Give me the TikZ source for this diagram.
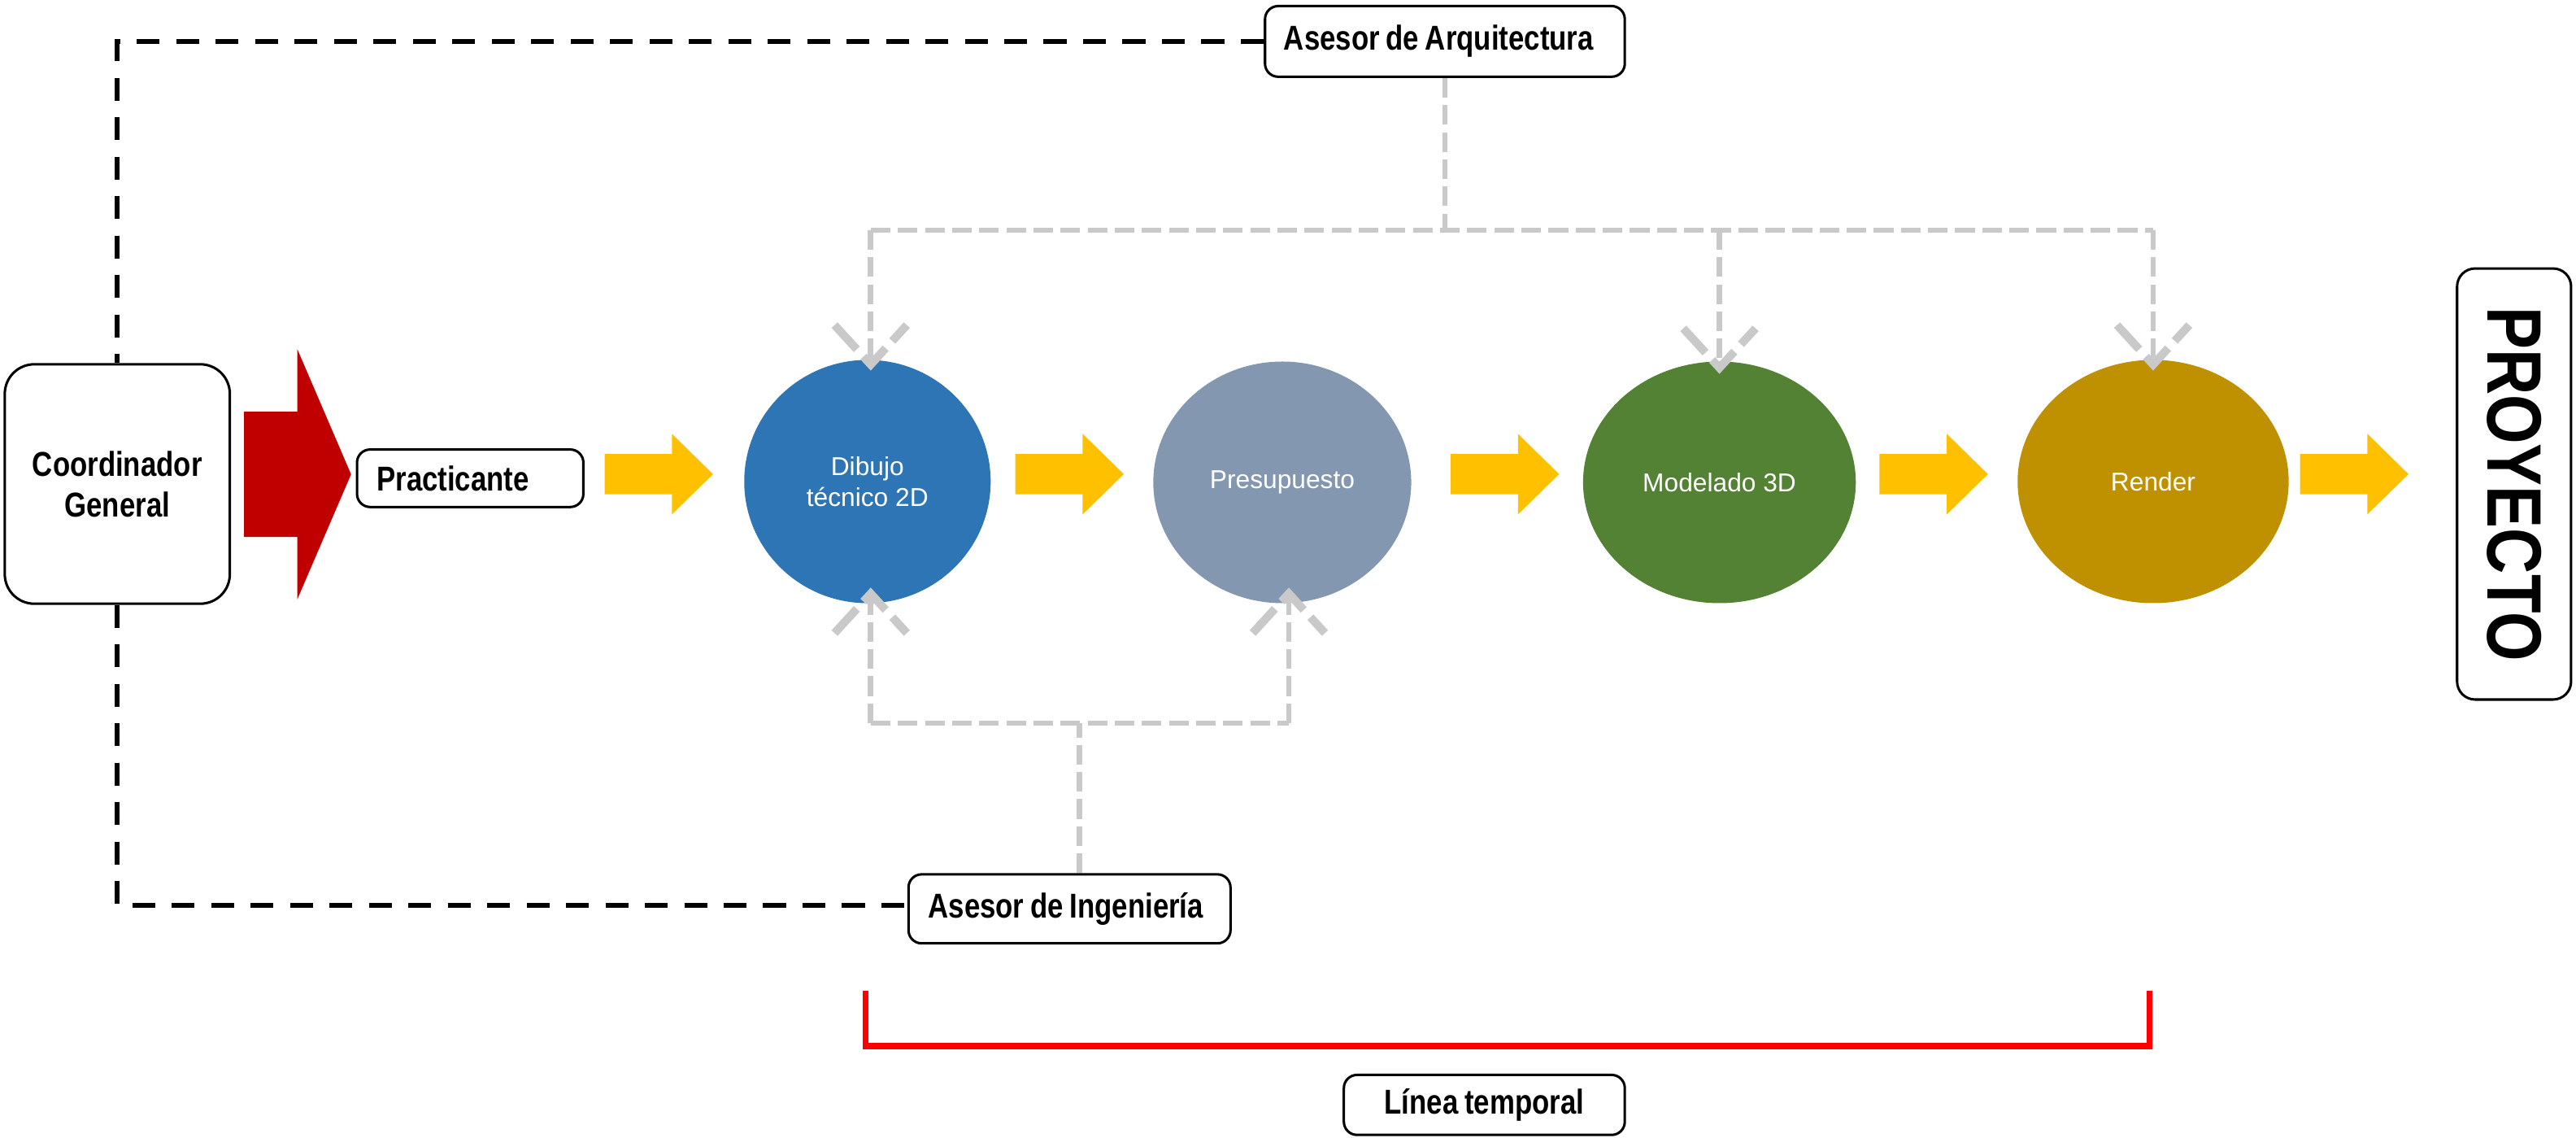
\documentclass[tikz,border=0pt]{standalone}
\usepackage{fontspec}
\setmainfont{Liberation Sans}
\newfontfamily\lblfont[FakeStretch=0.82,WordSpace=0.8]{Liberation Sans}
\usetikzlibrary{calc,shapes.geometric}
\definecolor{yel}{HTML}{FFC000}
\definecolor{redarr}{HTML}{C00000}
\definecolor{cblue}{HTML}{2E75B6}
\definecolor{cgray}{HTML}{8497B0}
\definecolor{cgreen}{HTML}{548235}
\definecolor{cgold}{HTML}{BF9000}
\definecolor{lgray}{RGB}{201,201,201}
\newcommand\myheaddown[1]{\draw[ghead] ($(#1)+(-22,-24)$) -- (#1) -- ($(#1)+(22,-24)$);}
\newcommand\myheadup[1]{\draw[ghead] ($(#1)+(-22,24)$) -- (#1) -- ($(#1)+(22,24)$);}
\begin{document}
\begin{tikzpicture}[x=1pt,y=-1pt,
 lbox/.style={draw=black, line width=1.5pt, rounded corners=8pt, fill=white, inner ysep=0pt,
   font=\lblfont\bfseries\fontsize{21}{24.7}\selectfont},
 ell/.style={ellipse, inner sep=0pt, text=white, font=\fontsize{15.7}{19}\selectfont, align=center},
 blk/.style={draw=black, line width=3.2pt, dash pattern=on 14pt off 10pt},
 gln/.style={draw=lgray, line width=3.3pt, dash pattern=on 12pt off 4.5pt},
 ghead/.style={draw=lgray, line width=5pt, dash pattern=on 20pt off 6pt, line join=miter},
 yarrow/.pic={\fill[yel] (0,-12.2) -- (41,-12.2) -- (41,-24.5) -- (66,0) -- (41,24.5) -- (41,12.2) -- (0,12.2) -- cycle;}
]
\useasboundingbox (0,0) rectangle (1568,692);

% boxes
\node[lbox, rounded corners=18pt, minimum width=137pt, minimum height=145.7pt, inner xsep=0pt, align=center] (coord) at (71.4,294.5) {Coordinador\\General};
\node[lbox, minimum height=35pt, inner xsep=12pt] (prac) at (286.2,291) {\makebox[113.8pt][l]{Practicante}};
\node[lbox, minimum height=43pt, inner xsep=11.5pt] (aa) at (879.5,25.2) {\makebox[196pt][l]{Asesor de Arquitectura}};
\node[lbox, minimum height=42pt, inner xsep=12pt] (ai) at (651,553) {\makebox[172pt][l]{Asesor de Ingenier\'{\i}a}};
\node[lbox, minimum height=36.5pt, minimum width=171pt, inner xsep=0pt] (lt) at (903.5,672.3) {L\'{\i}nea temporal};
\node[lbox, rounded corners=11pt, rotate=-90, minimum width=262.3pt, minimum height=69.4pt, inner xsep=0pt,
      font=\lblfont\bfseries\fontsize{47}{50}\selectfont] (proy) at (1530.3,294.5) {PROYECTO};

% ellipses
\node[ell, fill=cblue, minimum width=150pt, minimum height=148pt] (dib) at (528,293) {Dibujo\\t\'ecnico 2D};
\node[ell, fill=cgray, minimum width=157pt, minimum height=147pt] (pre) at (780.5,293.5) {Presupuesto};
\node[ell, fill=cgreen, minimum width=166pt, minimum height=147pt] (mod) at (1046.6,293.5) {Modelado 3D};
\node[ell, fill=cgold, minimum width=165pt, minimum height=148pt] (ren) at (1310.6,293) {Render};

% red block arrow
\fill[redarr] (148.5,250.5) -- (181,250.5) -- (181,212.5) -- (213.7,288.6) -- (181,364.6) -- (181,326.7) -- (148.5,326.7) -- cycle;

% yellow block arrows
\pic at (368,288.5) {yarrow};
\pic at (618,288.5) {yarrow};
\pic at (883,288.5) {yarrow};
\pic at (1144,288.5) {yarrow};
\pic at (1400,288.5) {yarrow};

% black dashed lines
\draw[blk] (aa.west) -| (coord.north);
\draw[blk] (coord.south) |- ([yshift=2pt]ai.west);

% gray connectors top
\coordinate (tbus) at (0,140);
\coordinate (t1) at ([xshift=2pt,yshift=-3pt]dib.north);
\coordinate (t2) at ([yshift=-4pt]mod.north);
\coordinate (t3) at ([yshift=-3pt]ren.north);
\draw[gln] (aa.south) -- (aa.south |- tbus);
\draw[gln] (t1 |- tbus) -- (t3 |- tbus);
\draw[gln] (t1 |- tbus) -- (t1);
\draw[gln] (t2 |- tbus) -- (t2);
\draw[gln] (t3 |- tbus) -- (t3);
\myheaddown{t1}
\myheaddown{t2}
\myheaddown{t3}

% gray connectors bottom
\coordinate (bbus) at (0,440);
\coordinate (b1) at ([xshift=2pt,yshift=6pt]dib.south);
\coordinate (b2) at ([xshift=4pt,yshift=6pt]pre.south);
\coordinate (bi) at ([xshift=6pt]ai.north);
\draw[gln] (bi) -- (bi |- bbus);
\draw[gln] (b1 |- bbus) -- (b2 |- bbus);
\draw[gln] (b1 |- bbus) -- (b1);
\draw[gln] (b2 |- bbus) -- (b2);
\myheadup{b1}
\myheadup{b2}

% red time bracket
\draw[red, line width=3.5pt, line join=miter] (527,603) -- (527,636.5) -- (1308.5,636.5) -- (1308.5,603);
\end{tikzpicture}
\end{document}
